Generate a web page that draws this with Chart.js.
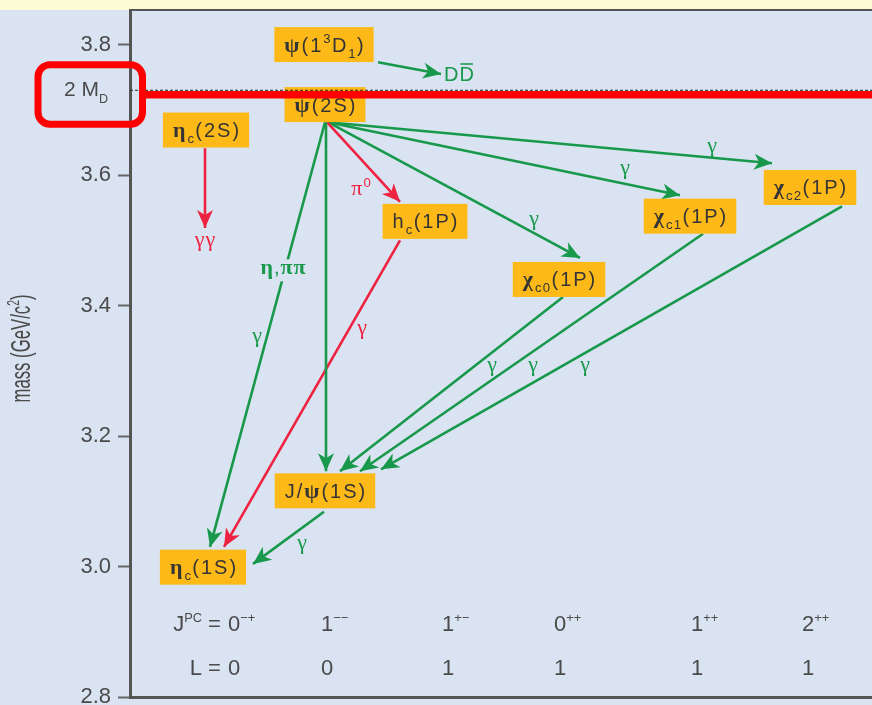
<!DOCTYPE html>
<html>
<head>
<meta charset="utf-8">
<title>Charmonium spectrum</title>
<script src="https://cdn.jsdelivr.net/npm/chart.js@4.4.1/dist/chart.umd.min.js"></script>
<style>
  html, body { margin: 0; padding: 0; background: #d9e3f1; }
  #wrap { width: 872px; height: 705px; }
</style>
</head>
<body>
<div id="wrap"><canvas id="chart" width="872" height="705"></canvas></div>
<script>
// ---- data -------------------------------------------------------------
// Mass axis ticks (GeV/c^2)
const Y_TICKS = [2.8, 3.0, 3.2, 3.4, 3.6, 3.8];
const Y_MIN = 2.8;
const Y_MAX = 3.853;

// Open-charm threshold 2 M_D and the hand-drawn marker just under it
const TWO_MD = 3.730;
const MARK_MASS = 3.723;

// Charmonium states: label, horizontal slot, mass of the level
const STATE_LABELS = ['η_{c}(1S)', 'J/ψ(1S)', 'χ_{c0}(1P)', 'h_{c}(1P)', 'χ_{c1}(1P)',
                      'χ_{c2}(1P)', 'η_{c}(2S)', 'ψ(2S)', 'ψ(1^{3}D_{1})'];
const STATE_SLOT = [0.73, 1.95, 4.29, 2.95, 5.60, 6.80, 0.76, 1.95, 1.94];
const STATE_MASS = [2.999, 3.116, 3.440, 3.529, 3.537, 3.581, 3.669, 3.708, 3.800];

// Transitions: [slot, mass] at start and at the arrow tip; g = green, r = red
const TRANSITION_KIND = ['g', 'g', 'r', 'g', 'g', 'g', 'r', 'g', 'g', 'g', 'g', 'r', 'g'];
const TRANSITION_FROM = [[1.95, 3.681], [1.96, 3.681], [1.97, 3.681], [1.98, 3.681], [1.98, 3.681],
                         [1.98, 3.681], [2.70, 3.500], [4.33, 3.413], [5.73, 3.510], [7.12, 3.552],
                         [1.94, 3.084], [0.75, 3.641], [2.48, 3.773]];
const TRANSITION_TO = [[0.80, 3.030], [1.96, 3.146], [2.70, 3.559], [4.50, 3.473], [5.50, 3.569],
                       [6.42, 3.618], [0.94, 3.030], [2.10, 3.146], [2.30, 3.146], [2.51, 3.149],
                       [1.23, 3.004], [0.75, 3.519], [3.11, 3.755]];

// Decay-product notes beside the arrows
const NOTE_TEXT = ['γ', 'η,ππ', 'π^{0}', 'γ', 'γ', 'γ', 'γ', 'γ', 'γ', 'γ', 'γ', 'γγ', 'DD̄'];
const NOTE_KIND = ['g', 'g', 'r', 'g', 'g', 'g', 'r', 'g', 'g', 'g', 'g', 'r', 'g'];
const NOTE_POS = [[1.27, 3.350], [1.53, 3.454], [2.31, 3.575], [4.04, 3.529], [4.95, 3.608],
                  [5.82, 3.641], [2.32, 3.362], [3.62, 3.306], [4.03, 3.306], [4.55, 3.306],
                  [1.72, 3.033], [0.75, 3.497], [3.29, 3.750]];

// Quantum-number rows under the levels
const JPC = ['0^{−+}', '1^{−−}', '1^{+−}', '0^{++}', '1^{++}', '2^{++}'];
const L_VALUES = ['0', '0', '1', '1', '1', '1'];
const COLUMN_SLOT = [0.98, 1.91, 3.12, 4.24, 5.61, 6.72];
const JPC_ROW_MASS = 2.913;
const L_ROW_MASS = 2.846;

// ---- styling -----------------------------------------------------------
const BG = '#d9e3f1';
const TOP_BAND = '#fdfbd3';
const BOX = '#fdb918';
const INK = '#353535';
const AXIS_INK = '#4a4a4a';
const AXIS_LINE = '#555555';
const GREEN = '#17984a';
const RED = '#ee2241';
const MARKER = '#ff0000';
const MASKED_NOTES = new Set([1]);
const colorOf = k => (k === 'r' ? RED : GREEN);

// ---- small rich-text helper (^{sup}, _{sub}, combining overline) -------
function parseRich(s) {
  const out = [];
  for (let i = 0; i < s.length;) {
    const c = s[i];
    if ((c === '^' || c === '_') && s[i + 1] === '{') {
      const j = s.indexOf('}', i);
      out.push({ t: s.slice(i + 2, j), mode: c === '^' ? 'sup' : 'sub' });
      i = j + 1;
    } else {
      out.push({ t: c, mode: 'base' });
      i++;
    }
  }
  return out;
}
const isGreek = ch => /[\u0370-\u03ff]/.test(ch);
function fontFor(ch, size, o) {
  if (isGreek(ch)) {
    return (o.greekBold ? 'bold ' : '') + (size * o.greekScale).toFixed(1) +
      'px "Liberation Serif", "DejaVu Serif", serif';
  }
  return (o.bold ? 'bold ' : '') + size.toFixed(1) + 'px "Liberation Sans", Arial, sans-serif';
}
function layoutRich(ctx, s, size, opts) {
  const o = Object.assign({ ls: 0, greekScale: 1.1, greekBold: true, bold: false, scriptScale: 0.66 }, opts || {});
  const items = [];
  let w = 0;
  for (const seg of parseRich(s)) {
    const sz = seg.mode === 'base' ? size : size * o.scriptScale;
    const dy = seg.mode === 'sup' ? -size * 0.42 : seg.mode === 'sub' ? size * 0.3 : 0;
    for (const ch of seg.t) {
      if (ch === '\u0304') {
        if (items.length) items[items.length - 1].bar = true;
        continue;
      }
      const f = fontFor(ch, sz, o);
      ctx.font = f;
      const cw = ctx.measureText(ch).width;
      items.push({ ch, f, x: w, dy, cw, sz });
      w += cw + o.ls * (sz / size);
    }
  }
  if (items.length) w -= o.ls * (items[items.length - 1].sz / size);
  return { items, w };
}
function drawRich(ctx, lay, x, baseline, color) {
  ctx.save();
  ctx.fillStyle = color;
  ctx.strokeStyle = color;
  ctx.textAlign = 'left';
  ctx.textBaseline = 'alphabetic';
  for (const it of lay.items) {
    ctx.font = it.f;
    ctx.fillText(it.ch, x + it.x, baseline + it.dy);
    if (it.bar) {
      const yb = baseline + it.dy - it.sz * 0.86;
      ctx.lineWidth = 1.5;
      ctx.beginPath();
      ctx.moveTo(x + it.x + 1, yb);
      ctx.lineTo(x + it.x + it.cw - 1, yb);
      ctx.stroke();
    }
  }
  ctx.restore();
}

function arrowHead(ctx, a, b, color) {
  const dx = b.x - a.x, dy = b.y - a.y;
  const len = Math.hypot(dx, dy);
  const ux = dx / len, uy = dy / len, nx = -uy, ny = ux;
  const L = 18, W = 8;
  const bx = b.x - ux * L, by = b.y - uy * L;
  const mx = b.x - ux * L * 0.72, my = b.y - uy * L * 0.72;
  ctx.save();
  ctx.fillStyle = color;
  ctx.beginPath();
  ctx.moveTo(b.x, b.y);
  ctx.lineTo(bx + nx * W, by + ny * W);
  ctx.lineTo(mx, my);
  ctx.lineTo(bx - nx * W, by - ny * W);
  ctx.closePath();
  ctx.fill();
  ctx.restore();
}

// ---- datasets ---------------------------------------------------------
const datasets = [];

datasets.push({
  role: 'marker',
  data: [{ x: 0.125, y: MARK_MASS }, { x: 7.42, y: MARK_MASS }],
  showLine: true, borderColor: MARKER, borderWidth: 7.5, pointRadius: 0,
  borderCapStyle: 'butt', order: 0
});
datasets.push({
  role: 'threshold',
  data: [{ x: 0, y: TWO_MD }, { x: 7.42, y: TWO_MD }],
  showLine: true, borderColor: '#222222', borderWidth: 1.2, borderDash: [3, 2],
  pointRadius: 0, order: 1
});
datasets.push({
  role: 'states',
  data: STATE_SLOT.map((x, i) => ({ x, y: STATE_MASS[i] })),
  showLine: false, pointRadius: 0, order: 2
});
TRANSITION_FROM.forEach((from, i) => {
  const to = TRANSITION_TO[i];
  datasets.push({
    role: 'arrow',
    data: [{ x: from[0], y: from[1] }, { x: to[0], y: to[1] }],
    showLine: true, borderColor: colorOf(TRANSITION_KIND[i]), borderWidth: 2.6,
    borderCapStyle: 'butt', pointRadius: 0, order: 3
  });
});

// ---- drawing plugin ------------------------------------------------------
const diagram = {
  id: 'diagram',
  beforeDraw(chart) {
    const { ctx, width, height, chartArea } = chart;
    ctx.save();
    ctx.fillStyle = BG;
    ctx.fillRect(0, 0, width, height);
    ctx.fillStyle = TOP_BAND;
    ctx.fillRect(0, 0, width, chartArea.top);
    ctx.restore();
  },
  afterDatasetDraw(chart, args) {
    const ds = chart.data.datasets[args.index];
    const pts = args.meta.data;
    const ctx = chart.ctx;
    if (ds.role === 'arrow') {
      arrowHead(ctx, pts[0], pts[1], ds.borderColor);
    }
    if (ds.role === 'states') {
      // level boxes
      pts.forEach((p, i) => {
        const lay = layoutRich(ctx, STATE_LABELS[i], 20, { ls: 2 });
        const w = lay.w + 20, h = 35;
        ctx.fillStyle = BOX;
        ctx.fillRect(p.x - w / 2, p.y - h / 2, w, h);
        drawRich(ctx, lay, p.x - lay.w / 2, p.y + 7, INK);
      });
      // decay notes
      const sx = chart.scales.x, sy = chart.scales.y;
      NOTE_TEXT.forEach((t, i) => {
        const x = sx.getPixelForValue(NOTE_POS[i][0]);
        const y = sy.getPixelForValue(NOTE_POS[i][1]);
        const lay = layoutRich(ctx, t, 20, { ls: 1, greekBold: MASKED_NOTES.has(i) });
        if (MASKED_NOTES.has(i)) {
          ctx.fillStyle = BG;
          ctx.fillRect(x - lay.w / 2 - 2, y - 11, lay.w + 4, 22);
        }
        drawRich(ctx, lay, x - lay.w / 2, y + 4, colorOf(NOTE_KIND[i]));
      });
    }
  },
  afterDraw(chart) {
    const { ctx, chartArea } = chart;
    const sx = chart.scales.x, sy = chart.scales.y;

    // frame line along the top of the plot
    ctx.save();
    ctx.strokeStyle = AXIS_LINE;
    ctx.lineWidth = 2;
    ctx.beginPath();
    ctx.moveTo(chartArea.left, chartArea.top);
    ctx.lineTo(chartArea.right, chartArea.top);
    ctx.stroke();
    ctx.restore();

    // vertical axis title, condensed
    const tl = layoutRich(ctx, 'mass (GeV/c^{2})', 27, { scriptScale: 0.62 });
    ctx.save();
    ctx.translate(21, (chartArea.top + chartArea.bottom) / 2 - 5);
    ctx.rotate(-Math.PI / 2);
    const k = 108 / tl.w;
    ctx.scale(k, 1);
    drawRich(ctx, tl, -tl.w / 2, 9, AXIS_INK);
    ctx.restore();

    // threshold label and its hand-drawn highlight
    const yMD = sy.getPixelForValue(TWO_MD);
    const md = layoutRich(ctx, '2 M_{D}', 21, { scriptScale: 0.6 });
    drawRich(ctx, md, chartArea.left - 22 - md.w, yMD + 6, AXIS_INK);
    ctx.save();
    ctx.strokeStyle = MARKER;
    ctx.lineWidth = 7;
    ctx.beginPath();
    ctx.roundRect(chartArea.left - 92, yMD - 25.5, 104.5, 59.5, 12);
    ctx.stroke();
    ctx.restore();

    // quantum-number rows
    const y1 = sy.getPixelForValue(JPC_ROW_MASS) + 8;
    const y2 = sy.getPixelForValue(L_ROW_MASS) + 8;
    COLUMN_SLOT.forEach((slot, c) => {
      const x = sx.getPixelForValue(slot);
      const a = layoutRich(ctx, JPC[c], 22, { scriptScale: 0.58 });
      drawRich(ctx, a, x, y1, AXIS_INK);
      const b = layoutRich(ctx, L_VALUES[c], 22);
      drawRich(ctx, b, x, y2, AXIS_INK);
      if (c === 0) {
        const pa = layoutRich(ctx, 'J^{PC} = ', 22, { scriptScale: 0.58 });
        drawRich(ctx, pa, x - pa.w - 1, y1, AXIS_INK);
        const pb = layoutRich(ctx, 'L = ', 22);
        drawRich(ctx, pb, x - pb.w - 1, y2, AXIS_INK);
      }
    });
  }
};

new Chart(document.getElementById('chart'), {
  type: 'scatter',
  data: { datasets },
  plugins: [diagram],
  options: {
    responsive: false,
    animation: false,
    events: [],
    layout: { padding: { top: 10, left: 0, right: 0, bottom: 0 } },
    plugins: { legend: { display: false }, tooltip: { enabled: false } },
    scales: {
      x: {
        type: 'linear', min: 0, max: 7.42,
        ticks: { display: false },
        grid: { display: false },
        border: { display: true, color: AXIS_LINE, width: 3 },
        afterFit(s) { s.height = 8; s.paddingLeft = 0; s.paddingRight = 0; }
      },
      y: {
        type: 'linear', min: Y_MIN, max: Y_MAX,
        afterBuildTicks(s) { s.ticks = Y_TICKS.map(v => ({ value: v })); },
        ticks: {
          color: AXIS_INK, padding: 7,
          font: { family: '"Liberation Sans", Arial, sans-serif', size: 22 },
          callback: v => Number(v).toFixed(1)
        },
        grid: {
          display: true, drawOnChartArea: false, drawTicks: true,
          tickLength: 12, tickColor: '#666666', tickWidth: 2
        },
        border: { display: true, color: AXIS_LINE, width: 3 },
        afterFit(s) { s.width = 130; s.paddingTop = 0; s.paddingBottom = 0; }
      }
    }
  }
});
</script>
</body>
</html>
